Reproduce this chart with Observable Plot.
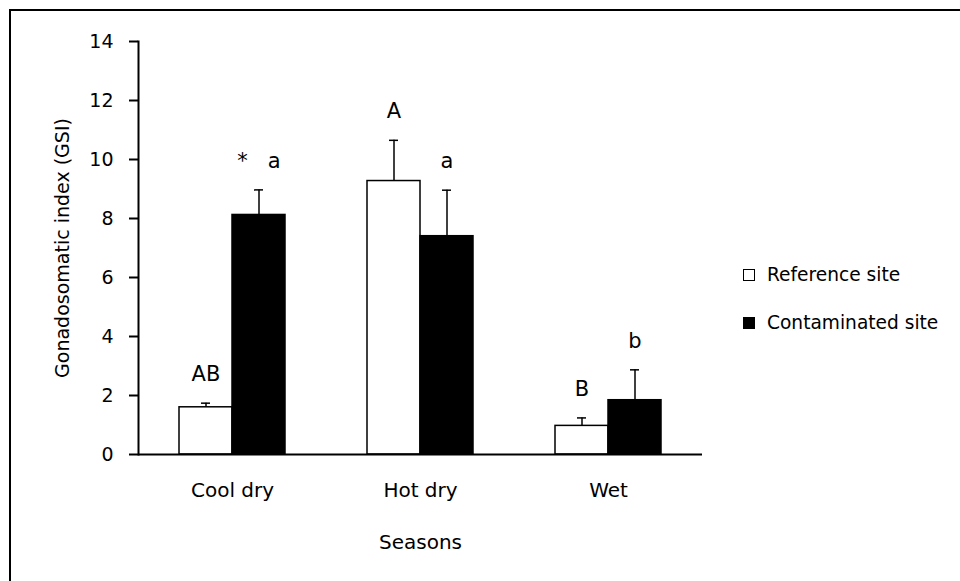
<!DOCTYPE html>
<html>
<head>
<meta charset="utf-8">
<script src="https://cdn.jsdelivr.net/npm/d3@7"></script>
<script src="https://cdn.jsdelivr.net/npm/@observablehq/plot@0.6"></script>
<style>
  html, body { margin: 0; padding: 0; background: white; }
  #figure { position: relative; width: 960px; height: 581px; overflow: hidden; font-family: "DejaVu Sans", sans-serif; }
  #border { position: absolute; left: 9px; top: 9px; right: -10px; bottom: -10px; border-top: 2px solid black; border-left: 2px solid black; }
  #chart { position: absolute; left: 0; top: 0; }
  .legend { position: absolute; left: 743px; font-size: 18.6px; color: black; }
  .legend-row { position: absolute; left: 0; white-space: nowrap; display: flex; align-items: center; }
  .swatch { width: 12px; height: 12px; box-sizing: border-box; border: 1.5px solid black; margin-right: 12px; }
</style>
</head>
<body>
<div id="figure">
  <div id="border"></div>
  <div id="chart"></div>
  <div class="legend" id="legend"></div>
</div>
<script>
// Seasons and sampling sites
const seasons = ["Cool dry", "Hot dry", "Wet"];
const sites = ["Reference site", "Contaminated site"];
const siteColors = ["white", "black"];

// Mean gonadosomatic index and standard error per season
const referenceMean = [1.60, 9.27, 0.97];
const referenceSE = [0.14, 1.38, 0.27];
const contaminatedMean = [8.12, 7.40, 1.84];
const contaminatedSE = [0.85, 1.56, 1.03];

// Significance letters (* marks a difference between sites)
const referenceLetters = ["AB", "A", "B"];
const contaminatedLetters = ["*\u00a0\u00a0\u00a0a", "a", "b"];

const yTicks = [0, 2, 4, 6, 8, 10, 12, 14];

const rows = [];
seasons.forEach((season, i) => {
  rows.push({season, site: sites[0], mean: referenceMean[i], upper: referenceMean[i] + referenceSE[i], letter: referenceLetters[i]});
  rows.push({season, site: sites[1], mean: contaminatedMean[i], upper: contaminatedMean[i] + contaminatedSE[i], letter: contaminatedLetters[i]});
});

const chart = Plot.plot({
  width: 960,
  height: 581,
  marginLeft: 137,
  marginRight: 257,
  marginTop: 41,
  marginBottom: 127,
  style: {fontFamily: "'DejaVu Sans', sans-serif", fontSize: "19px", color: "black", background: "transparent", overflow: "visible"},
  fx: {domain: seasons, padding: 0},
  x: {domain: sites, paddingInner: 0, paddingOuter: 0.747, axis: null},
  y: {domain: [0, 14]},
  color: {domain: sites, range: siteColors},
  marks: [
    Plot.barY(rows, {fx: "season", x: "site", y: "mean", fill: "site", stroke: "black", strokeWidth: 1.5}),
    Plot.ruleX(rows, {fx: "season", x: "site", y1: "mean", y2: "upper", stroke: "black", strokeWidth: 1.5}),
    Plot.tickY(rows, {fx: "season", x: "site", y: "upper", insetLeft: 22, insetRight: 22, stroke: "black", strokeWidth: 1.5}),
    Plot.ruleY([0], {stroke: "black", strokeWidth: 2}),
    Plot.frame({anchor: "left", facetAnchor: "left", stroke: "black", strokeWidth: 2}),
    Plot.axisY({ticks: yTicks, tickSize: 9, tickPadding: 16, strokeWidth: 2, fontSize: 19, label: "Gonadosomatic index (GSI)", labelAnchor: "center", labelArrow: "none", labelOffset: 83}),
    Plot.axisFx({anchor: "bottom", tickSize: 0, tickPadding: 28, fontSize: 20, label: "Seasons", labelAnchor: "center", labelArrow: "none", labelOffset: 94}),
    Plot.text(rows, {fx: "season", x: "site", y: "upper", text: "letter", dy: -29, fontSize: 21, fill: "black"})
  ]
});
document.getElementById("chart").appendChild(chart);

// Legend to the right of the plot
const legend = document.getElementById("legend");
const legendTops = [264, 312];
sites.forEach((site, i) => {
  const row = document.createElement("div");
  row.className = "legend-row";
  row.style.top = legendTops[i] + "px";
  const sw = document.createElement("div");
  sw.className = "swatch";
  sw.style.background = siteColors[i];
  row.appendChild(sw);
  row.appendChild(document.createTextNode(site));
  legend.appendChild(row);
});
</script>
</body>
</html>
